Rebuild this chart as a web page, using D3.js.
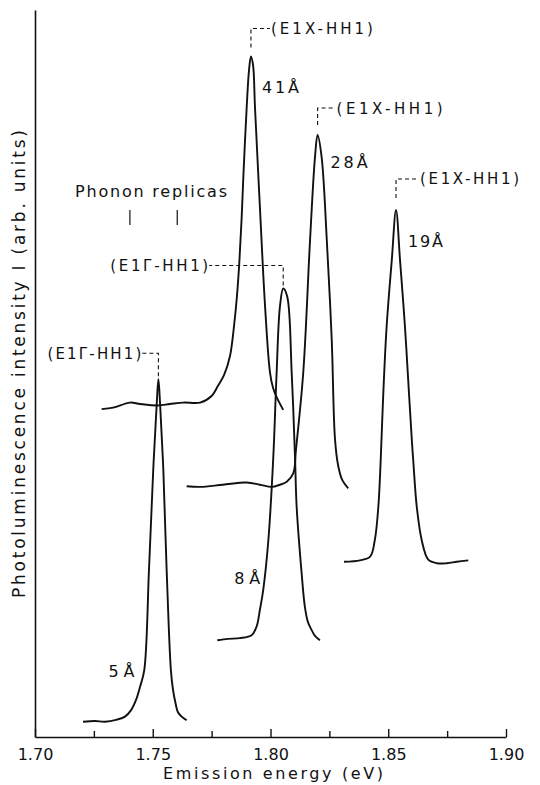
<!DOCTYPE html>
<html>
<head>
<meta charset="utf-8">
<script src="https://cdn.jsdelivr.net/npm/d3@7"></script>
<style>
  body { margin: 0; background: #fff; }
  svg text { font-family: "DejaVu Sans", sans-serif; fill: #111; }
</style>
</head>
<body>
<svg id="chart" width="540" height="785"></svg>
<script>
// 数据：能量(eV) 与 强度(任意单位)
const curve_41A = [
  [1.7283, 45.1], [1.7332, 45.3], [1.7403, 46.0], [1.7446, 45.8], [1.7521, 45.6], [1.7573, 45.8],
  [1.7630, 46.0], [1.7701, 46.0], [1.7750, 46.9], [1.7777, 48.3], [1.7803, 49.8], [1.7828, 52.4],
  [1.7845, 56.5], [1.7858, 60.8], [1.7868, 65.5], [1.7877, 71.1], [1.7885, 77.3], [1.7899, 86.7],
  [1.7909, 91.8], [1.7917, 93.6], [1.7926, 92.4], [1.7934, 86.7], [1.7955, 72.9], [1.7977, 59.2],
  [1.7998, 50.1], [1.8011, 48.0], [1.8028, 46.6], [1.8054, 45.0]
];
const curve_28A = [
  [1.7644, 34.5], [1.7701, 34.4], [1.7798, 34.7], [1.7899, 35.0], [1.7955, 34.7], [1.8005, 34.4],
  [1.8040, 34.7], [1.8069, 35.1], [1.8097, 36.3], [1.8108, 39.5], [1.8139, 50.1], [1.8168, 68.4],
  [1.8189, 79.8], [1.8200, 82.8], [1.8217, 79.8], [1.8239, 68.4], [1.8260, 54.6], [1.8274, 40.9],
  [1.8288, 37.2], [1.8304, 35.4], [1.8330, 34.2]
];
const curve_19A = [
  [1.8312, 24.1], [1.8380, 24.3], [1.8423, 24.8], [1.8443, 27.1], [1.8458, 31.7], [1.8468, 38.1],
  [1.8479, 47.3], [1.8493, 56.4], [1.8515, 65.6], [1.8533, 72.5], [1.8550, 65.6], [1.8571, 56.4],
  [1.8588, 47.3], [1.8600, 40.9], [1.8606, 38.1], [1.8621, 31.7], [1.8642, 27.1], [1.8670, 24.4],
  [1.8707, 23.9], [1.8748, 23.9], [1.8791, 24.1], [1.8840, 24.3]
];
const curve_8A = [
  [1.7774, 13.3], [1.7820, 13.5], [1.7870, 13.6], [1.7920, 14.0], [1.7941, 15.2], [1.7955, 17.5],
  [1.7969, 20.2], [1.7991, 27.1], [1.8012, 38.6], [1.8026, 50.1], [1.8040, 59.2], [1.8054, 61.7],
  [1.8071, 60.6], [1.8090, 50.1], [1.8104, 38.6], [1.8111, 31.7], [1.8132, 22.6], [1.8146, 17.9],
  [1.8159, 15.8], [1.8175, 14.7], [1.8189, 13.9], [1.8210, 13.3]
];
const curve_5A = [
  [1.7204, 2.1], [1.7255, 2.2], [1.7297, 2.1], [1.7348, 2.4], [1.7382, 2.8], [1.7408, 3.7],
  [1.7429, 5.1], [1.7446, 6.9], [1.7464, 9.2], [1.7484, 23.0], [1.7502, 36.7], [1.7517, 45.9],
  [1.7524, 49.2], [1.7531, 45.9], [1.7545, 36.7], [1.7559, 23.0], [1.7577, 9.2], [1.7586, 6.5],
  [1.7597, 4.6], [1.7607, 3.4], [1.7623, 2.8], [1.7644, 2.3]
];
const curves = [curve_41A, curve_28A, curve_19A, curve_8A, curve_5A];
const well_widths = ["41Å", "28Å", "19Å", "8Å", "5Å"];
const transitions = ["(E1X-HH1)", "(E1X-HH1)", "(E1X-HH1)", "(E1Γ-HH1)", "(E1Γ-HH1)"];
const phonon_replicas = [1.7403, 1.7604];
const major_ticks = [1.70, 1.75, 1.80, 1.85, 1.90];
const minor_ticks = [1.725, 1.775, 1.825, 1.875];

// 版面（像素偏移），与数据分开
const bracket_layout = [
  { side: 1, up: 28, gap: 9, run: 19, len: 102 },
  { side: 1, up: 27, gap: 10, run: 18, len: 106 },
  { side: 1, up: 31, gap: 12, run: 23, len: 99 },
  { side: -1, up: 23, gap: 3, run: 74, len: 98 },
  { side: -1, up: 26, gap: 3, run: 16, len: 94 }
];
const width_label_layout = [
  { dx: 11, dy: 36, len: 37 },
  { dx: 13, dy: 33, len: 37 },
  { dx: 12, dy: 37, len: 35 },
  { dx: -49, dy: 296, len: 26 },
  { dx: -50, dy: 298, len: 26 }
];

const svg = d3.select("#chart");
const xScale = d3.scaleLinear().domain([1.70, 1.90]).range([35, 506]);
const yScale = d3.scaleLinear().domain([0, 100]).range([737, 10]);

//坐标轴
function draw_Axis(svg, xScale, yScale) {
  const gx = svg.append("g")
    .attr("transform", `translate(0, ${yScale(0)})`)
    .call(d3.axisBottom(xScale)
      .tickValues(major_ticks)
      .tickSizeInner(-8)
      .tickSizeOuter(0)
      .tickPadding(12)
      .tickFormat(d3.format(".2f")));
  gx.attr("font-family", null).attr("font-size", null);
  gx.select(".domain").attr("stroke", "#111").attr("stroke-width", 1.6);
  gx.selectAll(".tick line").attr("stroke", "#111").attr("stroke-width", 1.4);
  gx.selectAll(".tick text").style("font-size", "16px");

  const gm = svg.append("g")
    .attr("transform", `translate(0, ${yScale(0)})`)
    .call(d3.axisBottom(xScale)
      .tickValues(minor_ticks)
      .tickSizeInner(-6)
      .tickSizeOuter(0)
      .tickFormat(""));
  gm.select(".domain").remove();
  gm.selectAll(".tick line").attr("stroke", "#111").attr("stroke-width", 1.4);

  const gy = svg.append("g")
    .attr("transform", `translate(${xScale(1.70)}, 0)`)
    .call(d3.axisLeft(yScale).tickValues([]).tickSizeOuter(0));
  gy.select(".domain").attr("stroke", "#111").attr("stroke-width", 1.6);
}

//坐标标题
function draw_Labels(svg) {
  svg.append("text")
    .attr("x", 273)
    .attr("y", 779)
    .attr("text-anchor", "middle")
    .attr("textLength", 220)
    .attr("lengthAdjust", "spacing")
    .style("font-size", "16px")
    .text("Emission energy (eV)");

  svg.append("text")
    .attr("transform", "translate(25, 364) rotate(-90)")
    .attr("text-anchor", "middle")
    .attr("textLength", 468)
    .attr("lengthAdjust", "spacing")
    .style("font-size", "17px")
    .text("Photoluminescence intensity I (arb. units)");
}

//光谱曲线
function draw_curves(svg, xScale, yScale) {
  const line = d3.line()
    .x(d => xScale(d[0]))
    .y(d => yScale(d[1]))
    .curve(d3.curveCatmullRom.alpha(0.5));

  svg.selectAll(".pl-curve")
    .data(curves)
    .enter()
    .append("path")
    .attr("class", "pl-curve")
    .attr("d", line)
    .attr("fill", "none")
    .attr("stroke", "#111")
    .attr("stroke-width", 1.9)
    .attr("stroke-linejoin", "round");
}

//峰位标注
function draw_annotations(svg, xScale, yScale) {
  curves.forEach((c, i) => {
    const peak = c.reduce((a, b) => (b[1] > a[1] ? b : a));
    const px = xScale(peak[0]);
    const py = yScale(peak[1]);
    const b = bracket_layout[i];
    const cy = py - b.up;
    const ex = px + b.side * b.run;

    svg.append("path")
      .attr("d", `M${px},${py - b.gap}V${cy}H${ex}`)
      .attr("fill", "none")
      .attr("stroke", "#111")
      .attr("stroke-width", 1.1)
      .attr("stroke-dasharray", "4,3");

    svg.append("text")
      .attr("x", ex + b.side * 1)
      .attr("y", cy + 5.5)
      .attr("text-anchor", b.side > 0 ? "start" : "end")
      .attr("textLength", b.len)
      .attr("lengthAdjust", "spacing")
      .style("font-size", "15px")
      .text(transitions[i]);

    const w = width_label_layout[i];
    svg.append("text")
      .attr("x", px + w.dx)
      .attr("y", py + w.dy)
      .attr("textLength", w.len)
      .attr("lengthAdjust", "spacing")
      .style("font-size", "16px")
      .text(well_widths[i]);
  });

  // 声子伴线
  svg.append("text")
    .attr("x", 151)
    .attr("y", 197)
    .attr("text-anchor", "middle")
    .attr("textLength", 152)
    .attr("lengthAdjust", "spacing")
    .style("font-size", "16px")
    .text("Phonon replicas");

  svg.selectAll(".phonon-tick")
    .data(phonon_replicas)
    .enter()
    .append("line")
    .attr("class", "phonon-tick")
    .attr("x1", d => xScale(d))
    .attr("x2", d => xScale(d))
    .attr("y1", 210)
    .attr("y2", 225)
    .attr("stroke", "#111")
    .attr("stroke-width", 1.2);
}

draw_Axis(svg, xScale, yScale);
draw_Labels(svg);
draw_curves(svg, xScale, yScale);
draw_annotations(svg, xScale, yScale);
</script>
</body>
</html>
